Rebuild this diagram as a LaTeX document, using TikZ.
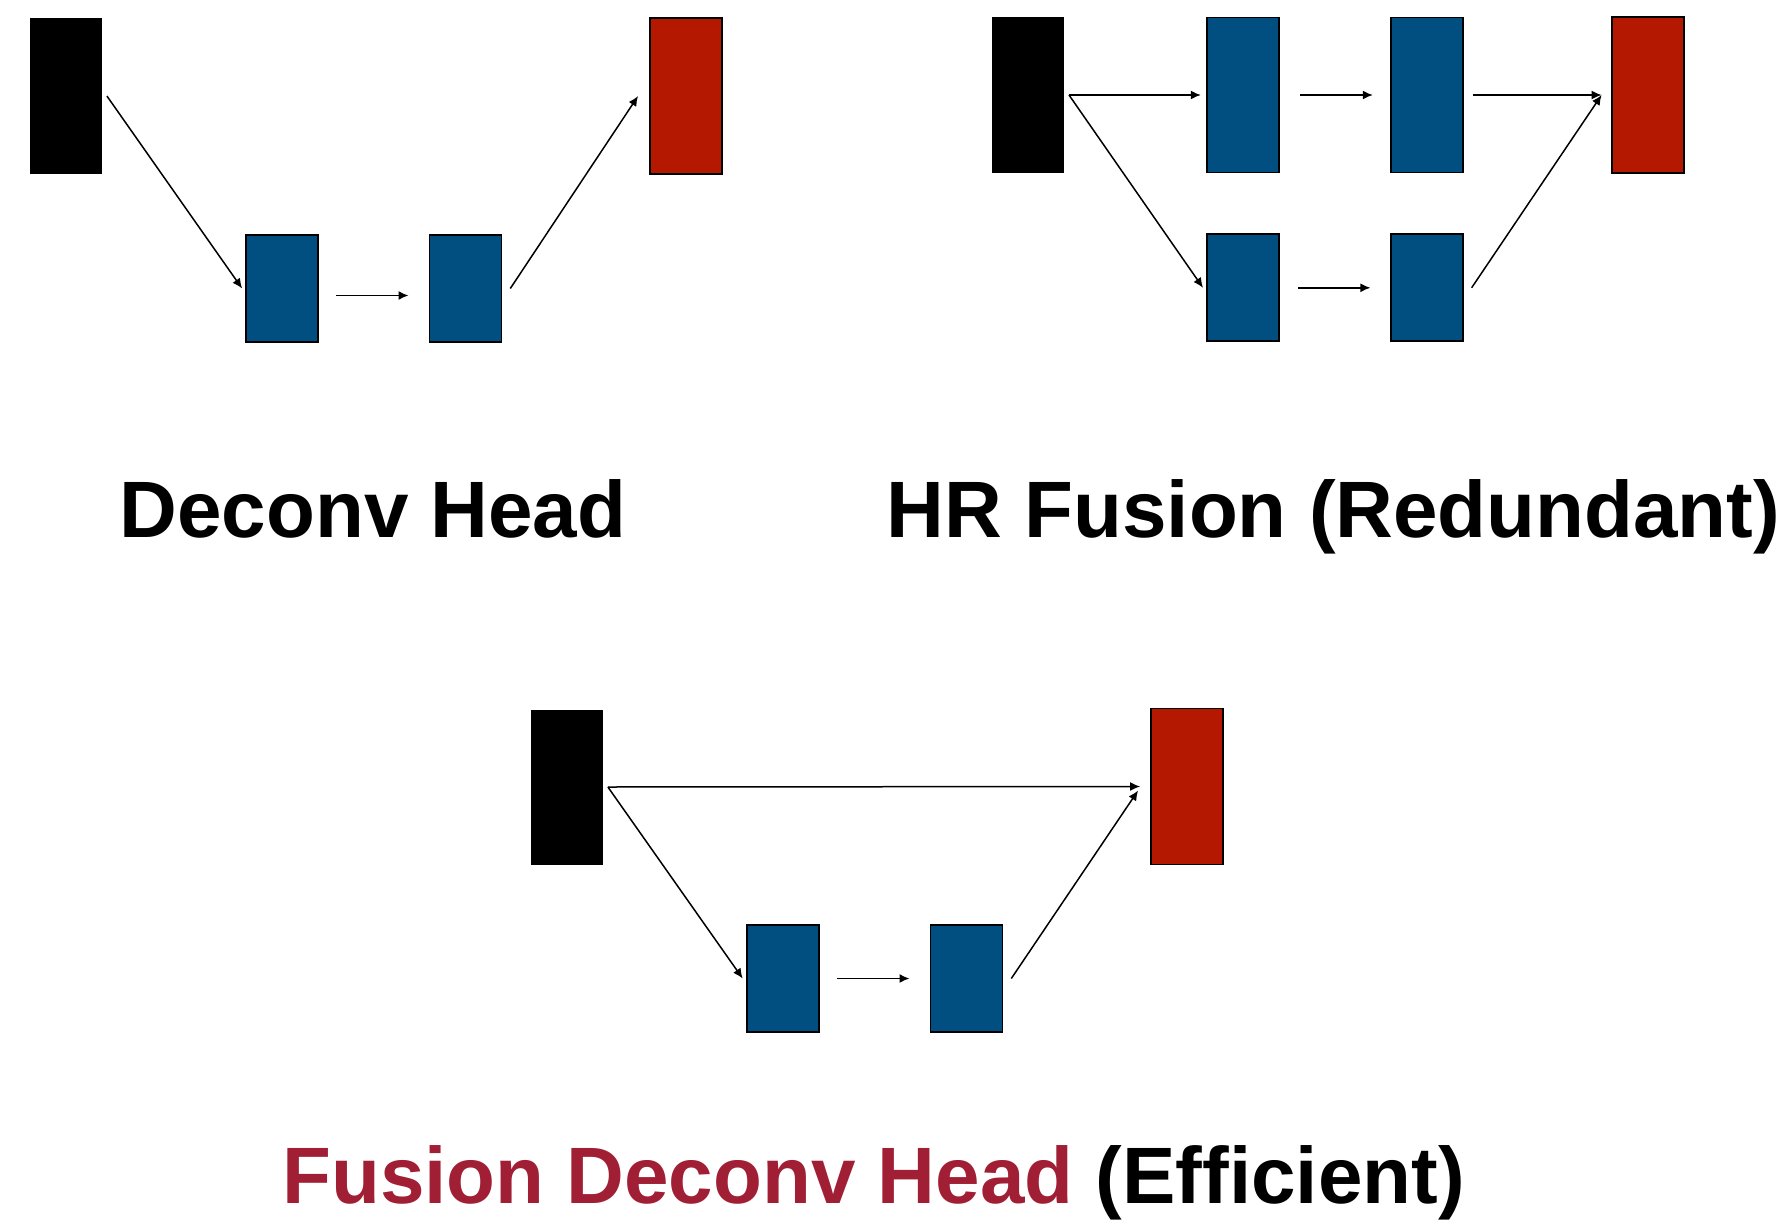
\documentclass[tikz,border=0pt]{standalone}
\usepackage{xcolor}
\usepackage{fontspec}
\setmainfont[Ligatures=NoCommon]{Liberation Sans}
\usepackage{tikz}
\usetikzlibrary{arrows.meta,positioning,calc}

\definecolor{featblue}{RGB}{0,79,128}
\definecolor{outred}{RGB}{180,24,0}
\definecolor{titlered}{RGB}{161,31,52}

\begin{document}
\begin{tikzpicture}[x=0.5pt, y=-0.5pt,
    inbox/.style={rectangle, fill=black, minimum width=36pt, minimum height=77.5pt, inner sep=0pt},
    tallbox/.style={rectangle, draw, line width=0.9pt, fill=featblue, minimum width=36pt, minimum height=77.5pt, inner sep=0pt},
    smallbox/.style={rectangle, draw, line width=0.9pt, fill=featblue, minimum width=36pt, minimum height=53.5pt, inner sep=0pt},
    outbox/.style={rectangle, draw, line width=0.9pt, fill=outred, minimum width=36pt, minimum height=78pt, inner sep=0pt},
    arrow/.style={->, >={Latex[length=5pt,width=4.5pt]}, line width=0.75pt},
    title/.style={anchor=base, inner sep=0pt, font=\fontsize{40}{48}\selectfont\bfseries}
]
\useasboundingbox (0,0) rectangle (1788,1220);

% Deconv head
\node[inbox] (inD) at (66,96) {};
\node[smallbox] (upD1) at (282,288.5) {};
\node[smallbox, right=54.8pt of upD1] (upD2) {};
\node[outbox] (outD) at (686,96) {};

% HR fusion
\node[inbox] (inH) at (1028,95) {};
\node[tallbox, right=71pt of inH] (hrH1) {};
\node[tallbox, right=54.8pt of hrH1] (hrH2) {};
\node[outbox, right=73.8pt of hrH2] (outH) {};
\node[smallbox, below=30pt of hrH1] (lrH1) {};
\node[smallbox, right=54.8pt of lrH1] (lrH2) {};
\coordinate (forkH) at ([xshift=2.3pt]inH.east);
\coordinate (mergeH) at ([xshift=-4.8pt]outH.west);

% Fusion deconv head
\node[inbox] (inF) at (567,787) {};
\node[smallbox] (upF1) at (783,978.5) {};
\node[smallbox, right=54.8pt of upF1] (upF2) {};
\node[outbox] (outF) at (1187,786.5) {};
\coordinate (forkF) at ([xshift=2.25pt]inF.east);

% Arrows
\draw[arrow] ([xshift=2.25pt]inD.east) -- ([xshift=-1.5pt]upD1.west);
\draw[arrow, shorten <=8.5pt, shorten >=10pt] ([yshift=-3.5pt]upD1.east) -- ([yshift=-3.5pt]upD2.west);
\draw[arrow] ([xshift=4pt]upD2.east) -- ([xshift=-5.5pt]outD.west);

\draw[arrow] (forkH) -- ([xshift=-2.8pt]hrH1.west);
\draw[arrow] (forkH) -- ([xshift=-1.7pt]lrH1.west);
\draw[arrow, shorten <=10pt, shorten >=8.5pt] (hrH1.east) -- (hrH2.west);
\draw[arrow, shorten <=9pt, shorten >=9.7pt] (lrH1.east) -- (lrH2.west);
\draw[arrow] ([xshift=4.5pt]hrH2.east) -- (mergeH);
\draw[arrow] ([xshift=4pt]lrH2.east) -- (mergeH);

\draw[arrow] (forkF) -- ([xshift=-5pt]outF.west);
\draw[arrow] (forkF) -- ([xshift=-1.7pt]upF1.west);
\draw[arrow, shorten <=8.5pt, shorten >=10pt] (upF1.east) -- (upF2.west);
\draw[arrow] ([xshift=4pt]upF2.east) -- ([xshift=-6pt,yshift=-2pt]outF.west);

% Captions
\node[title] (capD) at (373,537) {Deconv Head};
\node[title] (capH) at (1333.5,537) {HR Fusion (Redundant)};
\node[title] (capF) at (873.5,1203) {\textcolor{titlered}{Fusion Deconv Head} (Efficient)};

\end{tikzpicture}
\end{document}
